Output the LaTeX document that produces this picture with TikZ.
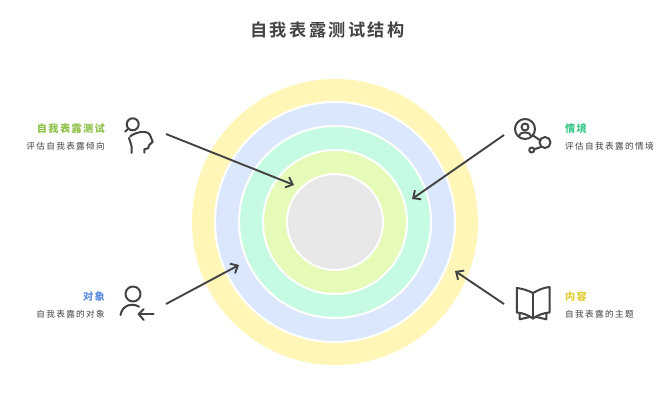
\documentclass[tikz,border=0pt]{standalone}
\usepackage{fontspec}
\setmainfont{Noto Sans CJK SC}
\newfontfamily\titlefont[LetterSpace=14,BoldFont={Noto Sans CJK SC Bold}]{Noto Sans CJK SC}
\newfontfamily\headfont[LetterSpace=13]{Noto Sans CJK SC}
\newfontfamily\descfont[LetterSpace=16]{Noto Sans CJK SC}
\usetikzlibrary{arrows.meta}
\definecolor{inkc}{HTML}{434343}
\definecolor{ringa}{HTML}{FFF6B8}
\definecolor{ringb}{HTML}{DBE7FD}
\definecolor{ringc}{HTML}{C6FBE3}
\definecolor{ringd}{HTML}{E6FBB8}
\definecolor{ringe}{HTML}{E8E8E8}
\definecolor{headgreen}{HTML}{8FC24A}
\definecolor{headteal}{HTML}{3CC98A}
\definecolor{headblue}{HTML}{5B8FE0}
\definecolor{headyellow}{HTML}{E3CF35}
\tikzset{
  ring/.style={circle,draw=white,line width=2pt,minimum size=#1,inner sep=0pt,outer sep=0pt},
  titletext/.style={font=\titlefont\fontsize{17.2}{20}\selectfont\bfseries,text=inkc,inner sep=0pt},
  headtext/.style={font=\headfont\fontsize{10.2}{12}\selectfont\bfseries,inner sep=0pt},
  desctext/.style={font=\descfont\fontsize{8.6}{10}\selectfont,text=inkc,inner sep=0pt},
  conn/.style={draw=inkc,line width=1.9pt,-{Straight Barb[length=6pt,width=11pt,line width=1.9pt]}},
  icon/.style={draw=inkc,line width=2pt,line cap=round,line join=round,fill=none},
}
\begin{document}
\begin{tikzpicture}[x=1pt,y=-1pt]
\useasboundingbox (0,0) rectangle (668,418);
\fill[white] (0,0) rectangle (668,418);
\node[titletext] (title) at (327.5,30) {自我表露测试结构};
\node[ring=286pt,draw=none,fill=ringa] (ra) at (335,222) {};
\node[ring=240pt,fill=ringb] (rb) at (335,222) {};
\node[ring=192pt,fill=ringc] (rc) at (335,222) {};
\node[ring=144pt,fill=ringd] (rd) at (335,222) {};
\node[ring=96pt,fill=ringe] (re) at (335,222) {};
\node[headtext,text=headgreen,anchor=east] (h1) at (105,129) {自我表露测试};
\node[desctext,anchor=east] (d1) at (105,146) {评估自我表露倾向};
\node[headtext,text=headteal,anchor=west] (h2) at (565,129) {情境};
\node[desctext,anchor=west] (d2) at (565,146) {评估自我表露的情境};
\node[headtext,text=headblue,anchor=east] (h3) at (105,297) {对象};
\node[desctext,anchor=east] (d3) at (105,314) {自我表露的对象};
\node[headtext,text=headyellow,anchor=west] (h4) at (565,297) {内容};
\node[desctext,anchor=west] (d4) at (565,314) {自我表露的主题};
\coordinate (s1) at (166,134); \coordinate (e1) at (294,185);
\coordinate (s2) at (504,135); \coordinate (e2) at (412,199);
\coordinate (s3) at (166,304); \coordinate (e3) at (239,265);
\coordinate (s4) at (504,304); \coordinate (e4) at (455,271);
\draw[conn] (s1) -- (e1);
\draw[conn] (s2) -- (e2);
\draw[conn] (s3) -- (e3);
\draw[conn] (s4) -- (e4);
% icon 1
\draw[icon] (132.7,124.3) circle (6);
\draw[icon] (128.5,128.5) -- (125,131.7);
\draw[icon] (130,136.7) .. controls (133,133) and (147,129) .. (150,135) -- (152.7,141.7) -- (149.3,145) -- (148,148.3) -- (144.3,149.3) -- (144.3,152.7);
\draw[icon] (129,138) -- (131.7,146.7) -- (131.7,153);
% icon 2
\draw[icon] (525,129) circle (10);
\draw[icon] (525,127) circle (3.5);
\draw[icon] (518.5,136.5) .. controls (519.5,131) and (530.5,131) .. (531.5,136.5);
\draw[icon] (533,135.5) -- (540.5,140.5);
\draw[icon] (545,142.5) circle (5.5);
\draw[icon] (541,147) -- (534.5,149.2);
\draw[icon] (531.7,150) circle (2.5);
% icon 3
\draw[icon] (133,294) circle (7.5);
\draw[icon] (120.5,315) .. controls (122,306) and (131,302) .. (139,306.7);
\draw[icon] (153.7,314) -- (138.7,314);
\draw[icon] (143.7,309) -- (138.7,314) -- (143.7,320);
% icon 4
\draw[icon] (533,293) .. controls (528,290.5) and (522,288.5) .. (516.8,288) -- (516.8,312.5) .. controls (523,313) and (528,315) .. (533,318.5);
\draw[icon] (533,293) .. controls (538,290) and (544,287.5) .. (549.5,287) -- (549.5,312.5) .. controls (543,313) and (538,315) .. (533,318.5);
\draw[icon] (533,293) -- (533,318.5);
\draw[icon] (519.7,314) -- (519.7,319.3) -- (529.7,317);
\draw[icon] (546.3,314) -- (546.3,319.3) -- (536.5,317);
\end{tikzpicture}
\end{document}
